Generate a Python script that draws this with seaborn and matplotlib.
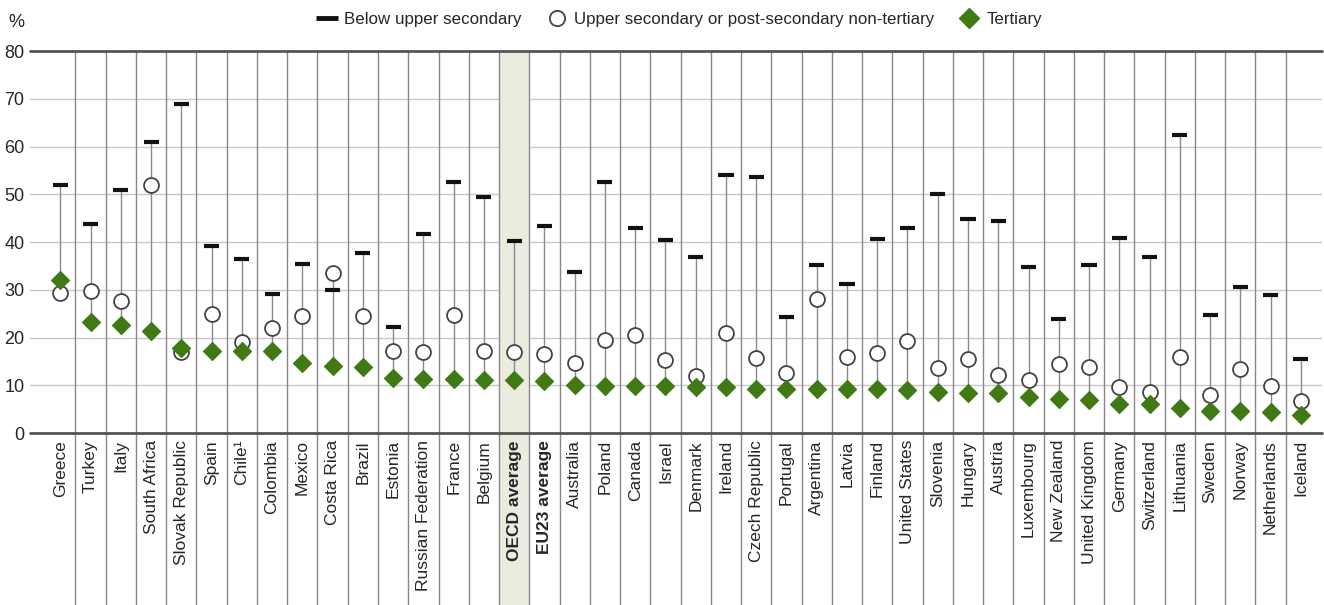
import numpy as np
import pandas as pd
import matplotlib
matplotlib.use("Agg")
import matplotlib.pyplot as plt
from matplotlib.lines import Line2D
import seaborn as sns

countries = ["Greece", "Turkey", "Italy", "South Africa", "Slovak Republic", "Spain", "Chile¹",
             "Colombia", "Mexico", "Costa Rica", "Brazil", "Estonia", "Russian Federation",
             "France", "Belgium", "OECD average", "EU23 average", "Australia", "Poland", "Canada",
             "Israel", "Denmark", "Ireland", "Czech Republic", "Portugal", "Argentina", "Latvia",
             "Finland", "United States", "Slovenia", "Hungary", "Austria", "Luxembourg",
             "New Zealand", "United Kingdom", "Germany", "Switzerland", "Lithuania", "Sweden",
             "Norway", "Netherlands", "Iceland"]

below_upper_secondary = [52.0, 43.9, 51.0, 60.9, 69.0, 39.3, 36.4, 29.1, 35.4, 29.9, 37.8, 22.2,
                         41.8, 52.6, 49.5, 40.3, 43.3, 33.8, 52.5, 42.9, 40.4, 36.8, 54.0, 53.6,
                         24.4, 35.3, 31.3, 40.7, 42.9, 50.1, 44.8, 44.4, 34.7, 24.0, 35.3, 40.9,
                         36.9, 62.4, 24.8, 30.7, 29.0, 15.6]

upper_secondary = [29.4, 29.8, 27.6, 52.0, 16.9, 25.0, 19.1, 22.0, 24.6, 33.5, 24.6, 17.2,
                   17.1, 24.8, 17.2, 16.9, 16.5, 14.8, 19.6, 20.5, 15.3, 12.0, 20.9, 15.8,
                   12.7, 28.2, 16.0, 16.7, 19.3, 13.6, 15.5, 12.2, 11.2, 14.4, 13.9, 9.6,
                   8.6, 16.0, 7.9, 13.5, 9.9, 6.7]

tertiary = [32.1, 23.3, 22.6, 21.5, 17.8, 17.2, 17.2, 17.2, 14.6, 14.1, 13.9, 11.6,
            11.4, 11.3, 11.1, 11.1, 10.9, 10.0, 9.9, 9.9, 9.8, 9.7, 9.6, 9.3,
            9.3, 9.2, 9.2, 9.2, 9.1, 8.6, 8.4, 8.4, 7.5, 7.1, 6.9, 6.2,
            6.1, 5.3, 4.7, 4.6, 4.5, 3.8]

y_ticks = [0, 10, 20, 30, 40, 50, 60, 70, 80]
bold_labels = ["OECD average", "EU23 average"]
highlight = "OECD average"

legend_labels = ["Below upper secondary", "Upper secondary or post-secondary non-tertiary", "Tertiary"]

GREEN = "#3f7a14"

sns.set_style("white")
plt.rcParams["font.family"] = ["Liberation Sans", "DejaVu Sans"]

df = pd.DataFrame({"country": countries,
                   "pos": np.arange(len(countries)),
                   "below": below_upper_secondary,
                   "upper": upper_secondary,
                   "tertiary": tertiary})

fig = plt.figure(figsize=(13.24, 6.05), dpi=100)
ax = fig.add_axes([0.0227, 0.284, 0.9758, 0.6314])

n = len(countries)
ax.set_xlim(-1.0, n - 1 + 0.7)
ax.set_ylim(0, 80)

# horizontal grid
for t in y_ticks[1:-1]:
    ax.axhline(t, color="#c8c8c8", lw=1.0, zorder=0)
ax.axhline(0, color="#555555", lw=2.0, zorder=1, clip_on=False)
ax.axhline(80, color="#555555", lw=2.0, zorder=1, clip_on=False)

trans = ax.get_xaxis_transform()
bottom_ax = -0.284 / 0.6314

# highlight band
hi = countries.index(highlight)
ax.fill_between([hi - 0.5, hi + 0.5], [bottom_ax, bottom_ax], [1, 1], transform=trans,
                color="#ecebdf", zorder=0, clip_on=False, lw=0)

# separators
for i in range(n - 1):
    ax.plot([i + 0.5, i + 0.5], [bottom_ax, 1], transform=trans, color="#888888", lw=1.0,
            clip_on=False, zorder=0.5)

# connecting lines from max to min
hi_vals = df[["below", "upper", "tertiary"]].max(axis=1)
lo_vals = df[["below", "upper", "tertiary"]].min(axis=1)
ax.vlines(df["pos"], lo_vals, hi_vals, color="#8a8a8a", lw=1.0, zorder=2)

# below upper secondary dashes
ax.hlines(df["below"], df["pos"] - 0.25, df["pos"] + 0.25, color="#111111", lw=3.0, zorder=3)

# upper secondary circles
sns.scatterplot(data=df, x="pos", y="upper", ax=ax, marker="o", s=115, color="white",
                edgecolor="#444444", linewidth=1.3, zorder=4, legend=False)
# tertiary diamonds
sns.scatterplot(data=df, x="pos", y="tertiary", ax=ax, marker="D", s=85, color=GREEN,
                edgecolor=GREEN, linewidth=0.8, zorder=5, legend=False)

ax.set_xlabel("")
ax.set_ylabel("")
ax.set_xticks(df["pos"])
ax.set_xticklabels(countries, rotation=90, fontsize=12.5, va="top", ha="center")
for lbl in ax.get_xticklabels():
    if lbl.get_text() in bold_labels:
        lbl.set_fontweight("bold")
ax.set_yticks(y_ticks)
ax.set_yticklabels([str(t) for t in y_ticks], fontsize=13)
ax.tick_params(axis="both", length=0, pad=5)
ax.tick_params(axis="y", pad=4)
for s in ax.spines.values():
    s.set_visible(False)

fig.text(0.006, 0.962, "%", fontsize=13, ha="left", va="center", color="#222222")

handles = [
    Line2D([], [], marker="_", linestyle="none", color="#111111", markersize=16, markeredgewidth=3.5),
    Line2D([], [], marker="o", linestyle="none", markerfacecolor="white", markeredgecolor="#444444",
           markersize=11, markeredgewidth=1.3),
    Line2D([], [], marker="D", linestyle="none", markerfacecolor=GREEN, markeredgecolor=GREEN,
           markersize=10),
]
fig.legend(handles, legend_labels, loc="upper center", bbox_to_anchor=(0.513, 1.005), ncol=3,
           frameon=False, fontsize=12.2, handlelength=1.2, handletextpad=0.4, columnspacing=1.5)

fig.savefig("out.png", dpi=100)
